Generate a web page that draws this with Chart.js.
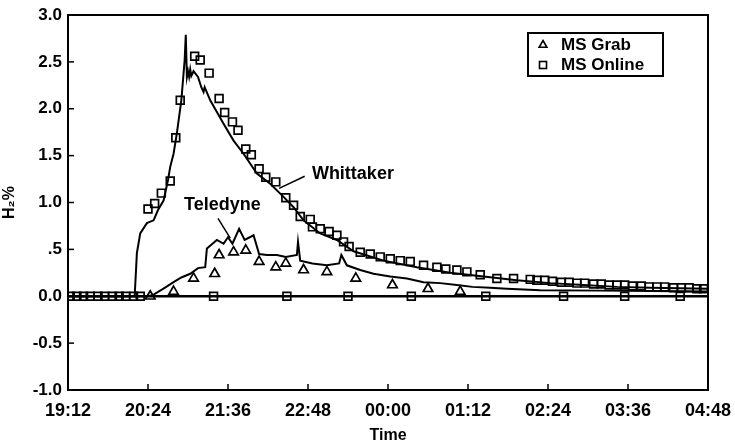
<!DOCTYPE html>
<html>
<head>
<meta charset="utf-8">
<script src="https://cdn.jsdelivr.net/npm/chart.js@4/dist/chart.umd.min.js"></script>
<style>
html,body{margin:0;padding:0;background:#fff;}
#wrap{width:735px;height:445px;}
</style>
</head>
<body>
<div id="wrap"><canvas id="c" width="735" height="445"></canvas></div>
<script>
// ---- data (x values are minutes after 19:12) ----
const clockStartMin = 19 * 60 + 12;
const xTickStepMin = 72;
const xSpanMin = 576;
const yMin = -1.0, yMax = 3.0, yStep = 0.5;

const whittakerT = [0, 60, 62, 65, 71, 77, 81, 86, 90, 92, 95, 98, 102, 105, 106, 107, 108, 109, 110, 111, 113, 117, 120, 122, 123, 128, 140, 149, 158, 170, 182, 194, 203, 212, 227, 242, 257, 284, 314, 344, 374, 404, 434, 464, 494, 524, 551, 576];
const whittakerV = [0, 0, 0.46, 0.67, 0.78, 0.81, 0.92, 1.02, 1.24, 1.38, 1.52, 1.74, 2.09, 2.52, 2.79, 2.34, 2.40, 2.34, 2.42, 2.35, 2.40, 2.34, 2.23, 2.18, 2.23, 2.09, 1.84, 1.66, 1.52, 1.31, 1.20, 1.06, 0.95, 0.81, 0.67, 0.60, 0.48, 0.38, 0.31, 0.25, 0.21, 0.17, 0.14, 0.12, 0.10, 0.09, 0.085, 0.08];

const teledyneT = [0, 71, 76, 87, 95, 102, 110, 117, 123.5, 125, 134, 140, 144, 148, 154, 159, 167, 172, 179, 188, 196, 206, 207, 209, 220, 233, 244, 246, 251, 263, 275, 290, 305, 320, 335, 350, 364, 380, 395, 425, 479, 524, 576];
const teledyneV = [0, 0, 0.01, 0.09, 0.15, 0.20, 0.24, 0.30, 0.31, 0.51, 0.60, 0.56, 0.63, 0.56, 0.72, 0.60, 0.65, 0.45, 0.44, 0.44, 0.42, 0.44, 0.58, 0.38, 0.35, 0.33, 0.35, 0.44, 0.33, 0.28, 0.24, 0.21, 0.19, 0.15, 0.14, 0.12, 0.10, 0.09, 0.08, 0.064, 0.06, 0.055, 0.05];

const grabT = [74, 95, 113, 132, 136, 149, 160, 172, 187, 196, 212, 233, 259, 292, 324, 353];
const grabV = [0.0, 0.05, 0.19, 0.24, 0.44, 0.47, 0.49, 0.37, 0.31, 0.35, 0.28, 0.26, 0.19, 0.12, 0.08, 0.05];

const onlineT = [2, 8, 14, 20, 27, 33, 40, 46, 52, 59, 65,
  72, 78, 84, 92, 97, 101, 114, 119, 127, 136,
  141, 148, 153, 160, 165, 172, 178, 187, 196, 203,
  209, 218, 220, 227, 235, 242, 248, 253, 263, 272,
  281, 290, 299, 308, 320, 332, 340, 350, 359, 371,
  386, 401, 416, 422, 429, 436, 444, 451, 458, 465,
  473, 480, 487, 494, 501, 508, 516, 523, 530, 537,
  545, 552, 559, 566, 572];
const onlineV = [0, 0, 0, 0, 0, 0, 0, 0, 0, 0, 0,
  0.93, 0.99, 1.10, 1.23, 1.69, 2.09, 2.56, 2.52, 2.38, 2.11,
  1.96, 1.86, 1.77, 1.57, 1.51, 1.36, 1.27, 1.22, 1.05, 0.97,
  0.85, 0.82, 0.74, 0.72, 0.69, 0.65, 0.58, 0.53, 0.47, 0.45,
  0.42, 0.40, 0.38, 0.37, 0.33, 0.31, 0.29, 0.28, 0.26, 0.23,
  0.19, 0.19, 0.18, 0.17, 0.17, 0.16, 0.15, 0.15, 0.14, 0.14,
  0.13, 0.13, 0.12, 0.12, 0.12, 0.11, 0.11, 0.10, 0.10, 0.10,
  0.09, 0.09, 0.09, 0.08, 0.08];

const onlineZeroT = [131, 197, 252, 309, 376, 446, 501, 551];
const onlineZeroV = [0, 0, 0, 0, 0, 0, 0, 0];

const labels = { whittaker: 'Whittaker', teledyne: 'Teledyne', grab: 'MS Grab', online: 'MS Online', xTitle: 'Time', yTitle: 'H\u2082%' };

// ---- helpers ----
const pts = (t, v) => t.map((x, i) => ({ x: x, y: v[i] }));
const fmtClock = v => {
  const m = ((clockStartMin + v) % 1440 + 1440) % 1440;
  const h = Math.floor(m / 60), mm = Math.round(m % 60);
  return String(h).padStart(2, '0') + ':' + String(mm).padStart(2, '0');
};
const FONT = '"Liberation Sans", Arial, Helvetica, sans-serif';

function tri(ctx, cx, cy, r) {
  ctx.beginPath();
  ctx.moveTo(cx, cy - r);
  ctx.lineTo(cx + r * 0.866, cy + r * 0.5);
  ctx.lineTo(cx - r * 0.866, cy + r * 0.5);
  ctx.closePath();
  ctx.stroke();
}

const decor = {
  id: 'decor',
  afterDraw(chart) {
    const { ctx, chartArea: a, scales: { x, y } } = chart;
    ctx.save();
    ctx.strokeStyle = '#000';
    ctx.fillStyle = '#000';
    // frame
    ctx.lineWidth = 2;
    ctx.strokeRect(a.left, a.top, a.right - a.left, a.bottom - a.top);
    // inward tick marks
    ctx.lineWidth = 1.5;
    x.ticks.forEach(t => {
      if (t.value <= x.min || t.value >= x.max) return;
      const px = x.getPixelForValue(t.value);
      ctx.beginPath(); ctx.moveTo(px, a.bottom); ctx.lineTo(px, a.bottom - 6); ctx.stroke();
    });
    y.ticks.forEach(t => {
      if (t.value === 0 || t.value <= y.min || t.value >= y.max) return;
      const py = y.getPixelForValue(t.value);
      ctx.beginPath(); ctx.moveTo(a.left, py); ctx.lineTo(a.left + 6, py); ctx.stroke();
    });
    // annotations
    ctx.font = 'bold 18px ' + FONT;
    ctx.textBaseline = 'middle';
    ctx.textAlign = 'left';
    ctx.fillText(labels.whittaker, x.getPixelForValue(219.5), y.getPixelForValue(1.30));
    ctx.lineWidth = 1.5;
    ctx.beginPath();
    ctx.moveTo(x.getPixelForValue(190), y.getPixelForValue(1.15));
    ctx.lineTo(x.getPixelForValue(213), y.getPixelForValue(1.28));
    ctx.stroke();
    ctx.textAlign = 'center';
    ctx.fillText(labels.teledyne, x.getPixelForValue(139), y.getPixelForValue(0.97));
    ctx.beginPath();
    ctx.moveTo(x.getPixelForValue(135), y.getPixelForValue(0.83));
    ctx.lineTo(x.getPixelForValue(146), y.getPixelForValue(0.62));
    ctx.stroke();
    // legend box
    const lx = a.right - 180, ly = a.top + 18, lw = 135, lh = 43;
    ctx.lineWidth = 2;
    ctx.strokeRect(lx, ly, lw, lh);
    ctx.lineWidth = 1.6;
    tri(ctx, lx + 15, ly + 12, 4.5);
    ctx.strokeRect(lx + 11.5, ly + 28.5, 7, 7);
    ctx.font = 'bold 17px ' + FONT;
    ctx.textAlign = 'left';
    ctx.fillText(labels.grab, lx + 33, ly + 12);
    ctx.fillText(labels.online, lx + 33, ly + 32);
    ctx.restore();
  }
};

Chart.defaults.font.family = FONT;
Chart.defaults.font.weight = 'bold';
Chart.defaults.color = '#000';

new Chart(document.getElementById('c'), {
  type: 'scatter',
  data: {
    datasets: [
      { label: labels.grab, data: pts(grabT, grabV), showLine: false, pointStyle: 'triangle', pointRadius: 5.5, borderColor: '#000', backgroundColor: 'rgba(255,255,255,0)', borderWidth: 1.7 },
      { label: labels.online, data: pts(onlineT, onlineV), showLine: false, pointStyle: 'rect', pointRadius: 5.5, borderColor: '#000', backgroundColor: 'rgba(255,255,255,0)', borderWidth: 1.7 },
      { label: labels.online, data: pts(onlineZeroT, onlineZeroV), showLine: false, pointStyle: 'rect', pointRadius: 5.5, borderColor: '#000', backgroundColor: 'rgba(255,255,255,0)', borderWidth: 1.7 },
      { label: labels.whittaker, data: pts(whittakerT, whittakerV), showLine: true, pointRadius: 0, borderColor: '#000', borderWidth: 2, tension: 0 },
      { label: labels.teledyne, data: pts(teledyneT, teledyneV), showLine: true, pointRadius: 0, borderColor: '#000', borderWidth: 2, tension: 0 }
    ]
  },
  options: {
    responsive: false,
    animation: false,
    layout: { padding: { top: 15, right: 27, left: 0, bottom: 0 } },
    plugins: { legend: { display: false }, tooltip: { enabled: false } },
    scales: {
      x: {
        type: 'linear', min: 0, max: xSpanMin,
        afterFit: s => { s.height = 55; s.paddingLeft = 0; s.paddingRight = 0; },
        ticks: { stepSize: xTickStepMin, callback: v => fmtClock(v), font: { size: 18, weight: 'bold' }, padding: 10, maxRotation: 0, autoSkip: false },
        grid: { display: false, drawTicks: false },
        border: { display: false },
        title: { display: true, text: labels.xTitle, font: { size: 16, weight: 'bold' }, padding: { top: 0, bottom: 0 } }
      },
      y: {
        min: yMin, max: yMax,
        afterFit: s => { s.width = 68; s.paddingTop = 0; s.paddingBottom = 0; },
        ticks: { stepSize: yStep, callback: v => (v === 0.5 ? '.5' : v.toFixed(1)), font: { size: 17, weight: 'bold' }, padding: 6 },
        grid: { drawTicks: false, color: c => (c.tick && c.tick.value === 0 ? '#000' : 'rgba(0,0,0,0)'), lineWidth: 2.5 },
        border: { display: false },
        title: { display: true, text: labels.yTitle, font: { size: 16, weight: 'bold' }, padding: { top: 0, bottom: 6 } }
      }
    }
  },
  plugins: [decor]
});
</script>
</body>
</html>
